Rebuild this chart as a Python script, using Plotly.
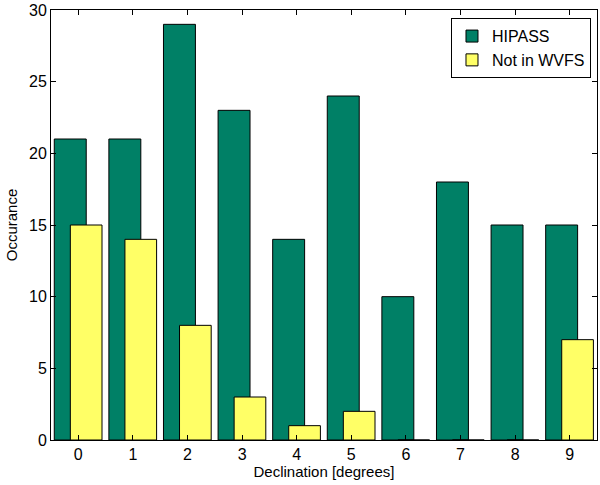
import plotly.graph_objects as go

declination = [0, 1, 2, 3, 4, 5, 6, 7, 8, 9]
hipass = [21, 21, 29, 23, 14, 24, 10, 18, 15, 15]
not_in_wvfs = [15, 14, 8, 3, 1, 2, 0, 0, 0, 7]
y_ticks = [0, 5, 10, 15, 20, 25, 30]

green = "#008066"
yellow = "#FFFF66"
font_family = "Liberation Sans, Arial, sans-serif"

fig = go.Figure()
fig.add_trace(go.Bar(
    x=declination, y=hipass, name="HIPASS",
    marker=dict(color=green, line=dict(color="black", width=1)),
    offset=-0.44, width=0.585,
))
fig.add_trace(go.Bar(
    x=declination, y=not_in_wvfs, name="Not in WVFS",
    marker=dict(color=yellow, line=dict(color="black", width=1)),
    offset=-0.146, width=0.58,
))

axis_common = dict(
    showline=True, linecolor="black", linewidth=1, mirror="ticks",
    ticks="inside", ticklen=5, tickcolor="black",
    showgrid=False, zeroline=False,
    tickfont=dict(family=font_family, size=16, color="black"),
)

fig.update_layout(
    width=600, height=485,
    margin=dict(l=51, r=3, t=10, b=45),
    paper_bgcolor="white", plot_bgcolor="white",
    barmode="overlay",
    showlegend=True,
    legend=dict(
        x=0.989, y=0.981, xanchor="right", yanchor="top",
        bordercolor="black", borderwidth=1, bgcolor="white",
        font=dict(family=font_family, size=16, color="black"),
        tracegroupgap=0,
    ),
    xaxis=dict(
        range=[-0.5, 9.5], tickmode="array", tickvals=declination,
        ticktext=[str(d) for d in declination],
        title=dict(text="Declination [degrees]", standoff=3,
                   font=dict(family=font_family, size=15, color="black")),
        **axis_common,
    ),
    yaxis=dict(
        range=[0, 30], tickmode="array", tickvals=y_ticks,
        title=dict(text="Occurance", standoff=7,
                   font=dict(family=font_family, size=15, color="black")),
        **axis_common,
    ),
)

fig.write_html(
    "out.html",
    config={"displayModeBar": False},
    post_script="document.body.style.margin='0';document.body.style.padding='0';",
)
